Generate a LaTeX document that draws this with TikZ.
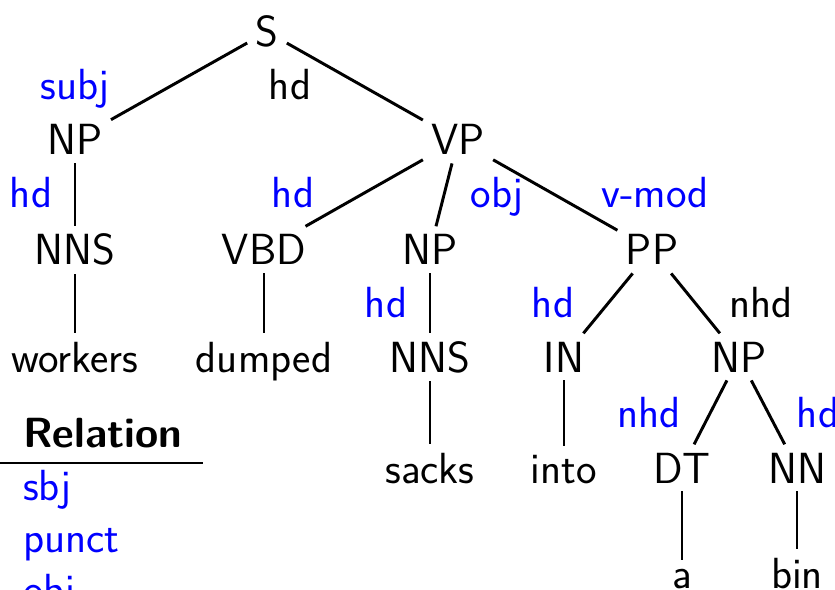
\documentclass[tikz,border=0pt]{standalone}
\usepackage{tikz}

\begin{document}
\begin{tikzpicture}[
    x=0.025cm, y=-0.025cm,
    every node/.style={font=\sffamily\fontsize{31}{37}\selectfont},
    cat/.style={anchor=base, inner sep=5pt, outer sep=1pt},
    rel/.style={anchor=base, inner sep=0pt, text=blue},
    plainrel/.style={anchor=base, inner sep=0pt},
    key/.style={anchor=base west, inner sep=0pt, text=blue},
    branch/.style={line width=2.1pt}
]
\useasboundingbox (0,0) rectangle (835,590);
\clip (0,0) rectangle (835,590);

% categories and words
\node[cat] (s) at (267,47) {S};
\node[cat] (np1) at (75,155) {NP};
\node[cat] (nns1) at (75,265) {NNS};
\node[cat] (workers) at (75,372) {workers};
\node[cat] (vp) at (458,155) {VP};
\node[cat] (vbd) at (264,265) {VBD};
\node[cat] (dumped) at (264,372) {dumped};
\node[cat] (np2) at (430,265) {NP};
\node[cat] (nns2) at (430,372) {NNS};
\node[cat] (sacks) at (430,483) {sacks};
\node[cat] (pp) at (652,265) {PP};
\node[cat] (in) at (564,372) {IN};
\node[cat] (into) at (564,483) {into};
\node[cat] (np3) at (739,372) {NP};
\node[cat] (dt) at (682,483) {DT};
\node[cat] (nn) at (797,483) {NN};
\node[cat] (a) at (682,588) {a};
\node[cat] (bin) at (797,588) {bin};

% branches
\draw[branch] (s) -- (np1);
\draw[branch] (s) -- (vp);
\draw[branch] (np1) -- (nns1);
\draw[branch] (nns1) -- (workers);
\draw[branch] (vp) -- (vbd);
\draw[branch] (vp) -- (np2);
\draw[branch] (vp) -- (pp);
\draw[branch] (vbd) -- (dumped);
\draw[branch] (np2) -- (nns2);
\draw[branch] (nns2) -- (sacks);
\draw[branch] (pp) -- (in);
\draw[branch] (pp) -- (np3);
\draw[branch] (in) -- (into);
\draw[branch] (np3) -- (dt);
\draw[branch] (np3) -- (nn);
\draw[branch] (dt) -- (a);
\draw[branch] (nn) -- (bin);

% relation labels
\node[rel] (l-subj) at (75,100) {subj};
\node[plainrel] (l-hd0) at (290,100) {hd};
\node[rel] (l-hd1) at (31,208) {hd};
\node[rel] (l-hd2) at (293,208) {hd};
\node[rel] (l-obj) at (497,208) {obj};
\node[rel] (l-vmod) at (655,208) {v-mod};
\node[rel] (l-hd3) at (386,318) {hd};
\node[rel] (l-hd4) at (553,318) {hd};
\node[plainrel] (l-nhd0) at (761,318) {nhd};
\node[rel] (l-nhd1) at (649,427) {nhd};
\node[rel] (l-hd5) at (818,427) {hd};

% relation table
\node[anchor=base west, inner sep=0pt, font=\sffamily\bfseries\fontsize{30}{36}\selectfont] (head) at (23,447) {Relation};
\coordinate (rule-l) at (0,463);
\coordinate (rule-r) at (203,463);
\draw[branch] (rule-l) -- (rule-r);
\node[key] (k-sbj) at (23,500) {sbj};
\node[key] (k-punct) at (23,552) {punct};
\node[key] (k-obj) at (23,604) {obj};
\end{tikzpicture}
\end{document}
